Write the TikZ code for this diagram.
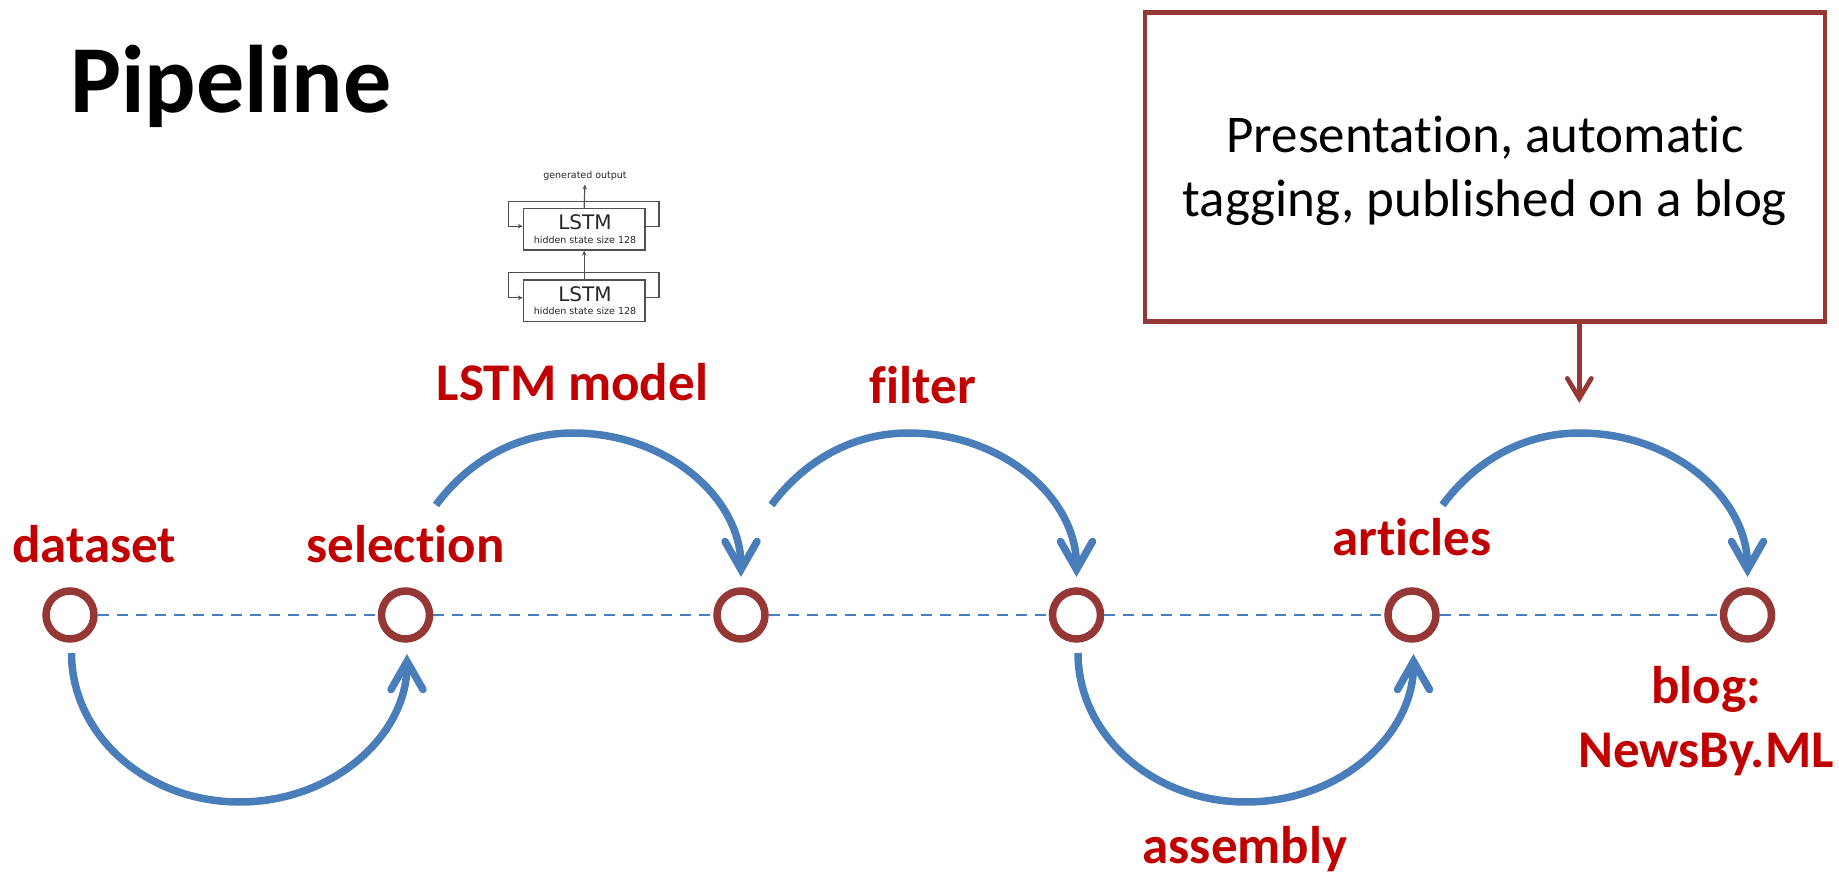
\documentclass[tikz,border=0pt]{standalone}
\usepackage{fontspec}
\setmainfont{Carlito}[Ligatures=NoCommon]
\newfontfamily\dvs{DejaVu Sans}
\usetikzlibrary{arrows.meta}
\definecolor{cbrown}{HTML}{953735}
\definecolor{cred}{HTML}{C00000}
\definecolor{cblue}{HTML}{4A7EBB}
\definecolor{cgray}{HTML}{505050}
\begin{document}
\begin{tikzpicture}[x=1pt,y=1pt,
  pt/.style={circle, draw=cbrown, fill=white, line width=7.5pt, minimum size=48pt, inner sep=0pt},
  lbl/.style={text=cred, font=\bfseries\fontsize{53}{64}\selectfont, inner sep=0pt, anchor=base, align=center},
  flow/.style={draw=cblue, line width=7.5pt, -{Straight Barb[length=28pt,width=32pt,line cap=round]}},
  axisline/.style={draw=cblue, line width=2.8pt, dash pattern=on 11pt off 8pt},
  brarr/.style={draw=cbrown, line width=4.7pt, -{Straight Barb[length=20pt,width=24pt,line cap=round]}},
  lbox/.style={draw=cgray, line width=1.2pt, minimum width=121.7pt, minimum height=41.7pt, inner sep=0pt},
  lsbig/.style={font=\dvs\fontsize{20}{24}\selectfont, inner sep=0pt, anchor=base, text=black!85},
  lssm/.style={font=\dvs\fontsize{9.5}{11}\selectfont, inner sep=0pt, anchor=base, text=black!85},
  larr/.style={draw=cgray, line width=1.2pt, -{Stealth[length=5pt,width=4.5pt]}}
]
\useasboundingbox (0,0) rectangle (1839,873);

% title
\node[anchor=base west, inner sep=0pt, font=\bfseries\fontsize{96}{115}\selectfont] (title) at (70,760) {Pipeline};

% circles
\node[pt] (c1) at (70,258) {};
\node[pt] (c2) at (405.5,258) {};
\node[pt] (c3) at (741,258) {};
\node[pt] (c4) at (1076.5,258) {};
\node[pt] (c5) at (1412,258) {};
\node[pt] (c6) at (1747.5,258) {};

% dashed axis
\draw[axisline] (c1.east) -- (c2.west) (c2.east) -- (c3.west) (c3.east) -- (c4.west)
  (c4.east) -- (c5.west) (c5.east) -- (c6.west);

% arc coordinates
\coordinate (s1) at ([shift={(1.5,-38)}]c1.center);
\coordinate (b1) at ([shift={(169.5,-187)}]c1.center);
\coordinate (t2) at ([shift={(1.5,-39)}]c2.center);
\coordinate (s2) at ([shift={(30.5,110)}]c2.center);
\coordinate (m2) at ([shift={(167.5,182)}]c2.center);
\coordinate (t3) at ([shift={(0,38)}]c3.center);
\coordinate (s3) at ([shift={(30.5,110)}]c3.center);
\coordinate (m3) at ([shift={(167.5,182)}]c3.center);
\coordinate (t4) at ([shift={(0,38)}]c4.center);
\coordinate (s4) at ([shift={(1.5,-38)}]c4.center);
\coordinate (b4) at ([shift={(169.5,-187)}]c4.center);
\coordinate (t5) at ([shift={(1.5,-39)}]c5.center);
\coordinate (s5) at ([shift={(30.5,110)}]c5.center);
\coordinate (m5) at ([shift={(167.5,182)}]c5.center);
\coordinate (t6) at ([shift={(0,38)}]c6.center);

% blue arcs
\draw[flow] (s1) .. controls +(0,-82) and +(-93,0) .. (b1) .. controls +(93,0) and +(0,-82) .. (t2);
\draw[flow] (s2) .. controls +(31,42) and +(-58,0) .. (m2) .. controls +(93,0) and +(0,80) .. (t3);
\draw[flow] (s3) .. controls +(31,42) and +(-58,0) .. (m3) .. controls +(93,0) and +(0,80) .. (t4);
\draw[flow] (s4) .. controls +(0,-82) and +(-93,0) .. (b4) .. controls +(93,0) and +(0,-82) .. (t5);
\draw[flow] (s5) .. controls +(31,42) and +(-58,0) .. (m5) .. controls +(93,0) and +(0,80) .. (t6);

% labels
\node[lbl] (ldataset) at (94,310) {dataset};
\node[lbl] (lsel) at (405.5,310) {selection};
\node[lbl] (llstm) at (572.5,472.3) {LSTM model};
\node[lbl] (lfilter) at (923,469) {filter};
\node[lbl] (larticles) at (1412,317) {articles};
\node[lbl] (lassembly) at (1245,10) {assembly};
\node[lbl] (lblog) at (1706,106) {blog:\\NewsBy.ML};

% box
\node[draw=cbrown, line width=4.5pt, fill=white, minimum width=680pt, minimum height=309pt,
  align=center, font=\fontsize{53}{63.7}\selectfont, text height=100pt, text depth=0.6pt,
  inner sep=0pt] (box) at (1485,706) {Presentation, automatic\\tagging, published on a blog};
\coordinate (btip) at (1579.3,470);
\draw[brarr] (box.south -| btip) -- (btip);

% LSTM mini diagram
\node[lbox] (lstm1) at (584.2,643.8) {};
\node[lbox] (lstm2) at (584.2,572.2) {};
\node[lsbig] (l1a) at (585,643.3) {LSTM};
\node[lssm] (l1b) at (585,629.6) {hidden state size 128};
\node[lsbig] (l2a) at (585,571.7) {LSTM};
\node[lssm] (l2b) at (585,558) {hidden state size 128};
\node[lssm] (gen) at (585,694.7) {generated output};
\draw[larr, shorten >=4pt] (lstm1.north) -- (gen.south);
\draw[larr] (lstm2.north) -- (lstm1.south);
\draw[larr] ([yshift=3pt]lstm1.east) -- ++(13.3,0) |- ([yshift=28pt]lstm1.center)
  -| ([shift={(-14pt,3pt)}]lstm1.west) -- ([yshift=3pt]lstm1.west);
\draw[larr] ([yshift=3pt]lstm2.east) -- ++(13.3,0) |- ([yshift=28pt]lstm2.center)
  -| ([shift={(-14pt,3pt)}]lstm2.west) -- ([yshift=3pt]lstm2.west);
\end{tikzpicture}
\end{document}
